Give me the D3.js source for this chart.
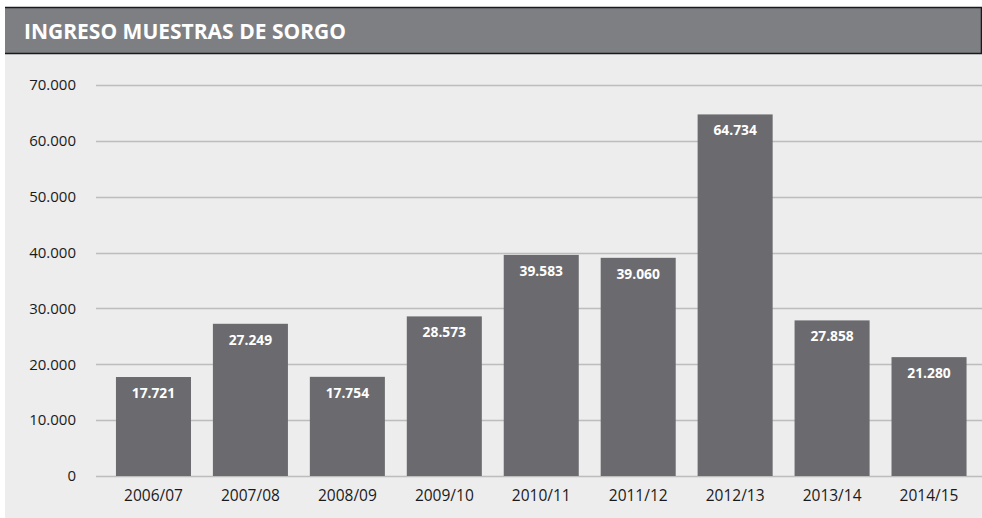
<!DOCTYPE html>
<html><head><meta charset="utf-8">
<script src="https://cdn.jsdelivr.net/npm/d3@7"></script>
<style>
html,body{margin:0;padding:0;background:#ffffff;}
svg{display:block;}
text{font-family:"Open Sans","Noto Sans",sans-serif;}
</style></head>
<body>
<svg id="chart" width="982" height="518"></svg>
<script>
const title = "INGRESO MUESTRAS DE SORGO";
const categories = ["2006/07","2007/08","2008/09","2009/10","2010/11","2011/12","2012/13","2013/14","2014/15"];
const values = [17721,27249,17754,28573,39583,39060,64734,27858,21280];
const tickValues = [0,10000,20000,30000,40000,50000,60000,70000];

const svg = d3.select("#chart");
const fmt = v => d3.format(",")(v).replace(/,/g, ".");

// panel background
svg.append("rect").attr("x",5).attr("y",7).attr("width",977).attr("height",511).attr("fill","#ededed");
// header
svg.append("rect").attr("x",5).attr("y",7).attr("width",977).attr("height",47).attr("fill","#7e7f83");
svg.append("line").attr("x1",5).attr("x2",982).attr("y1",7.5).attr("y2",7.5).attr("stroke","#1a1a1a").attr("stroke-width",1.5);
svg.append("line").attr("x1",5).attr("x2",982).attr("y1",53.5).attr("y2",53.5).attr("stroke","#1a1a1a").attr("stroke-width",1.5);
svg.append("line").attr("x1",981.5).attr("x2",981.5).attr("y1",7).attr("y2",54).attr("stroke","#1a1a1a").attr("stroke-width",1.5);
svg.append("text").attr("x",24).attr("y",38.5).attr("fill","#ffffff")
  .attr("font-size","21px").attr("font-weight","bold").text(title);

const y = d3.scaleLinear().domain([0,70000]).range([476,85]);
const x = d3.scaleBand().domain(categories).range([105,977.5]).paddingInner(0.226).paddingOuter(0.113);

// gridlines
svg.append("g").selectAll("line").data(tickValues).join("line")
  .attr("x1",96).attr("x2",982)
  .attr("y1",d=>Math.round(y(d))+0.5).attr("y2",d=>Math.round(y(d))+0.5)
  .attr("stroke","#bdbdbd").attr("stroke-width",1.5);

// y axis labels
const yAxis = d3.axisLeft(y).tickValues(tickValues).tickSize(0).tickPadding(0).tickFormat(fmt);
const gy = svg.append("g").attr("transform","translate(76,0)").call(yAxis);
gy.select(".domain").remove();
gy.selectAll("text").attr("font-size","15px").attr("fill","#1a1a1a").attr("dy","0.32em")
  .attr("font-family","'Open Sans','Noto Sans',sans-serif");

// bars
svg.append("g").selectAll("rect").data(values).join("rect")
  .attr("x",(d,i)=>x(categories[i])).attr("width",x.bandwidth())
  .attr("y",d=>y(d)).attr("height",d=>y(0)-y(d)).attr("fill","#6b6b6f");

// value labels
svg.append("g").selectAll("text").data(values).join("text")
  .attr("x",(d,i)=>x(categories[i])+x.bandwidth()/2).attr("y",d=>y(d)+21)
  .attr("text-anchor","middle").attr("fill","#ffffff").attr("font-size","13.8px").attr("font-weight","bold")
  .text(d=>fmt(d));

// x axis
const xAxis = d3.axisBottom(x).tickSize(0).tickPadding(0);
const gx = svg.append("g").attr("transform","translate(0,476)").call(xAxis);
gx.select(".domain").remove();
gx.selectAll("text").attr("font-size","15.5px").attr("fill","#1a1a1a").attr("dy","0").attr("y",24.5)
  .attr("font-family","'Open Sans','Noto Sans',sans-serif");
</script>
</body></html>
